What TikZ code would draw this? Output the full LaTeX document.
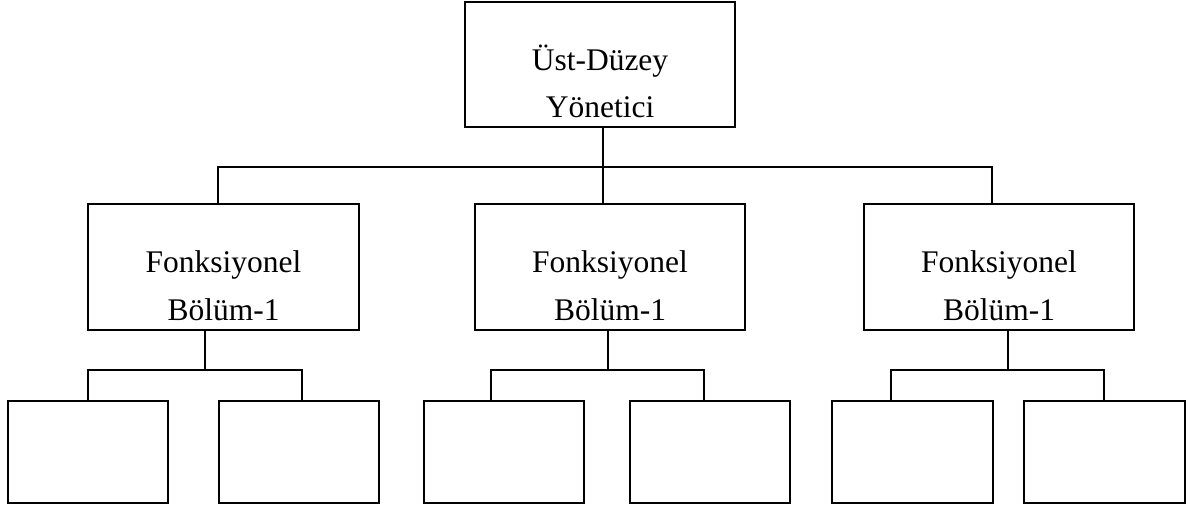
\documentclass[tikz,border=0pt]{standalone}
\usepackage{fontspec}
\setmainfont{Liberation Serif}
\begin{document}
\begin{tikzpicture}[x=1pt, y=-1pt,
  box/.style={draw, line width=2pt, inner sep=0pt, outer sep=0pt, fill=white},
  lbl/.style={inner sep=0pt, anchor=base, font=\fontsize{31.5}{48}\selectfont},
  link/.style={line width=2pt}]
\useasboundingbox (0,0) rectangle (1194,512);

% top manager
\node[box, minimum width=270pt, minimum height=125pt] (T) at (600,64.5) {};
\node[lbl] (T1) at (600,70) {Üst-Düzey};
\node[lbl] (T2) at (600,117) {Yönetici};

% functional departments
\node[box, minimum width=271pt, minimum height=126pt] (M1) at (223.5,267) {};
\node[box, minimum width=270pt, minimum height=126pt] (M2) at (610,267) {};
\node[box, minimum width=270pt, minimum height=126pt] (M3) at (999,267) {};
\foreach \n/\x in {M1/223.5, M2/610, M3/999} {
  \node[lbl] (\n a) at (\x,272) {Fonksiyonel};
  \node[lbl] (\n b) at (\x,320) {Bölüm-1};
}

% sub units
\node[box, minimum width=160pt, minimum height=102pt] (B1) at (88,452) {};
\node[box, minimum width=160pt, minimum height=102pt] (B2) at (299,452) {};
\node[box, minimum width=160pt, minimum height=102pt] (B3) at (504,452) {};
\node[box, minimum width=160pt, minimum height=102pt] (B4) at (710,452) {};
\node[box, minimum width=161pt, minimum height=102pt] (B5) at (912.5,452) {};
\node[box, minimum width=161pt, minimum height=102pt] (B6) at (1104.5,452) {};

% junction points
\coordinate (j0) at (603,167);
\coordinate (jl) at (218,167);
\coordinate (jr) at (992,167);
\coordinate (d1) at (205,370);
\coordinate (d2) at (608,370);
\coordinate (d3) at (1008,370);
\coordinate (a1) at (88,370);  \coordinate (b1) at (302,370);
\coordinate (a2) at (491,370); \coordinate (b2) at (704,370);
\coordinate (a3) at (891,370); \coordinate (b3) at (1104,370);

% top level links
\draw[link] (T.south -| j0) -- (M2.north -| j0);
\draw[link] (M1.north -| jl) -- (jl) -- (jr) -- (M3.north -| jr);

% department links
\draw[link] (M1.south -| d1) -- (d1);
\draw[link] (B1.north -| a1) -- (a1) -- (b1) -- (B2.north -| b1);
\draw[link] (M2.south -| d2) -- (d2);
\draw[link] (B3.north -| a2) -- (a2) -- (b2) -- (B4.north -| b2);
\draw[link] (M3.south -| d3) -- (d3);
\draw[link] (B5.north -| a3) -- (a3) -- (b3) -- (B6.north -| b3);
\end{tikzpicture}
\end{document}
